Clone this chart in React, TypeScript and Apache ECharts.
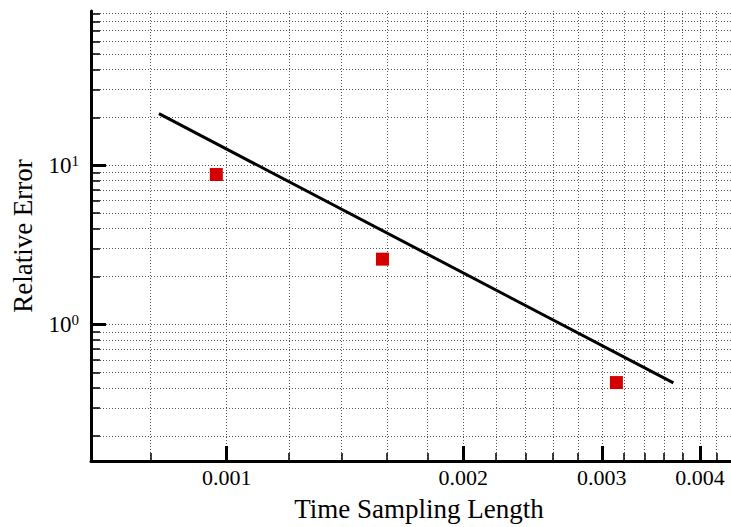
import React, { useEffect, useRef } from "react";
import * as echarts from "echarts";

// Data
const fitX = [0.00082, 0.0037];
const fitY = [21.1, 0.43];
const pointX = [0.00097, 0.001578, 0.003131];
const pointY = [8.75, 2.574, 0.432];

// Axis ticks
const xMajorTicks = [0.001, 0.002, 0.003, 0.004];
const xGridTicks = [
  0.0008, 0.001, 0.0012, 0.0014, 0.0016, 0.0018, 0.002, 0.0022, 0.0024, 0.0026,
  0.0028, 0.003, 0.0032, 0.0034, 0.0036, 0.0038, 0.004, 0.0042,
];
const yMajorTicks = [1, 10];
const yGridTicks = [
  0.2, 0.3, 0.4, 0.5, 0.6, 0.7, 0.8, 0.9, 1, 2, 3, 4, 5, 6, 7, 8, 9, 10, 20, 30,
  40, 50, 60, 70, 80, 90,
];

const FONT = "'Liberation Serif', 'Times New Roman', serif";
const X_MIN = 0.000672;
const X_MAX = 0.00438;
const Y_MIN = 0.139;
const Y_MAX = 93.1;

export default function App() {
  const ref = useRef<HTMLDivElement>(null);
  useEffect(() => {
    if (!ref.current) return;
    const chart = echarts.init(ref.current, null, { renderer: "svg" });
    const gridLine = {
      show: true,
      lineStyle: { color: "#555", width: 1, type: [1, 2] as any },
    };
    chart.setOption({
      animation: false,
      backgroundColor: "#fff",
      grid: { left: 91, right: 0, top: 11, bottom: 64, containLabel: false },
      xAxis: [
        {
          type: "log",
          min: X_MIN,
          max: X_MAX,
          position: "bottom",
          name: "Time Sampling Length",
          nameLocation: "middle",
          nameGap: 34,
          nameTextStyle: {
            fontFamily: FONT,
            fontSize: 27,
            color: "#000",
            padding: [0, 0, 0, 16],
          },
          axisLine: { show: true, lineStyle: { color: "#000", width: 3 } },
          axisTick: {
            show: true,
            inside: true,
            length: 15,
            customValues: xMajorTicks,
            lineStyle: { color: "#000", width: 3 },
          },
          axisLabel: {
            show: true,
            customValues: xMajorTicks,
            margin: 5,
            fontFamily: FONT,
            fontSize: 22,
            color: "#000",
            formatter: (v: number) => v.toFixed(3),
          },
          splitLine: { show: false },
          minorTick: { show: false },
        },
        {
          type: "log",
          min: X_MIN,
          max: X_MAX,
          position: "bottom",
          axisLine: { show: false },
          axisTick: {
            show: true,
            inside: true,
            length: 8,
            customValues: xGridTicks,
            lineStyle: { color: "#000", width: 1.5 },
          },
          axisLabel: { show: false },
          splitLine: gridLine,
        },
      ],
      yAxis: [
        {
          type: "log",
          min: Y_MIN,
          max: Y_MAX,
          position: "left",
          name: "Relative Error",
          nameLocation: "middle",
          nameGap: 55,
          nameRotate: 90,
          nameTextStyle: { fontFamily: FONT, fontSize: 27, color: "#000" },
          axisLine: { show: true, lineStyle: { color: "#000", width: 3 } },
          axisTick: {
            show: true,
            inside: true,
            length: 15,
            customValues: yMajorTicks,
            lineStyle: { color: "#000", width: 3 },
          },
          axisLabel: {
            show: true,
            customValues: yMajorTicks,
            margin: 12,
            formatter: (v: number) => `{b|10}{s|${Math.round(Math.log10(v))}}`,
            rich: {
              b: { fontFamily: FONT, fontSize: 23, color: "#000", lineHeight: 24 },
              s: {
                fontFamily: FONT,
                fontSize: 15,
                color: "#000",
                lineHeight: 12,
                verticalAlign: "top",
              },
            },
          },
          splitLine: { show: false },
        },
        {
          type: "log",
          min: Y_MIN,
          max: Y_MAX,
          position: "left",
          axisLine: { show: false },
          axisTick: {
            show: true,
            inside: true,
            length: 9,
            customValues: yGridTicks,
            lineStyle: { color: "#000", width: 1.5 },
          },
          axisLabel: { show: false },
          splitLine: gridLine,
        },
      ],
      series: [
        {
          type: "line",
          xAxisIndex: 0,
          yAxisIndex: 0,
          data: fitX.map((x, i) => [x, fitY[i]]),
          showSymbol: false,
          symbol: "none",
          lineStyle: { color: "#000", width: 3 },
          z: 3,
        },
        {
          type: "scatter",
          xAxisIndex: 0,
          yAxisIndex: 0,
          data: pointX.map((x, i) => [x, pointY[i]]),
          symbol: "rect",
          symbolSize: 13,
          itemStyle: { color: "#d40000", opacity: 1 },
          z: 4,
        },
      ],
    });
    return () => chart.dispose();
  }, []);
  return (
    <div
      ref={ref}
      style={{ position: "fixed", left: 0, top: 0, width: 731, height: 527, background: "#fff" }}
    />
  );
}
